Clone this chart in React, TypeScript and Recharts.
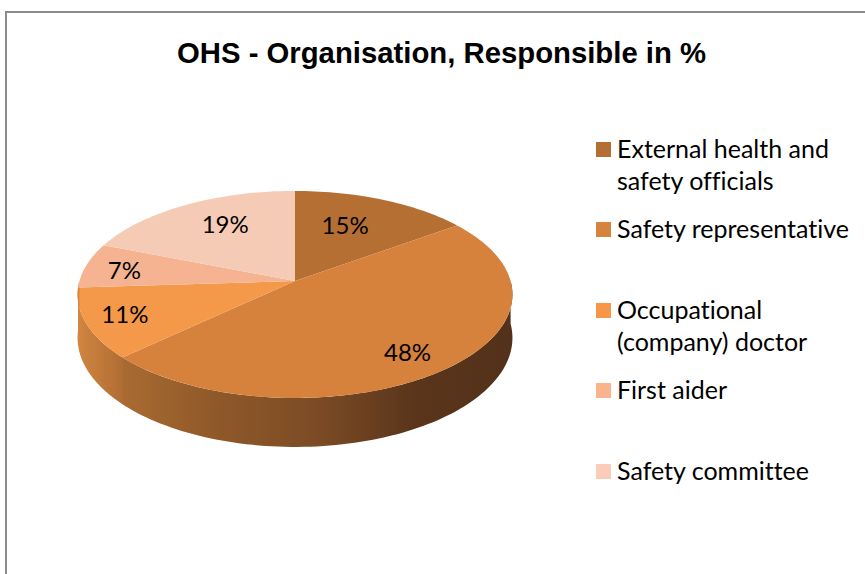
import { PieChart, Pie, Legend } from 'recharts'

const categories = [
  'External health and safety officials',
  'Safety representative',
  'Occupational (company) doctor',
  'First aider',
  'Safety committee',
]
const shares = [15, 48, 11, 7, 19]
const faceColors = ['#b56f33', '#d6813c', '#f4984a', '#f5b392', '#f6cbb5']
const swatchColors = ['#b46f35', '#d6833d', '#f79646', '#fab48c', '#fbcdb8']

const wallStopsFront = ['#a96b31', '#8e5829', '#7c4b25', '#5a351b', '#53311a']
const wallStopsLeft = ['#d08540', '#ae6c32']

// label spots: fraction of the radius along the slice middle, then a small nudge
const labelRadii = [0.65, 0.8, 0.8, 0.8, 0.68]
const labelNudges = [[-9, -2], [-7, 2], [-5, -1], [-3, 1], [7, -4]]
const legendTops = [142, 222, 303, 383, 464]

const WIDTH = 865
const HEIGHT = 574
const CX = 295
const CY = 281
const RADIUS = 215.6
const SQUASH = 0.472 // vertical flattening of the disc
const PERSPECTIVE = 0.13 // far side shrinks, near side grows
const DEPTH = 42.6

const rad = (deg: number) => (deg * Math.PI) / 180

// disc point at math angle a and radius fraction f -> screen position
function project(cx: number, cy: number, r: number, a: number, f = 1, drop = 0) {
  const u = Math.cos(rad(a)) * f
  const v = Math.sin(rad(a)) * f
  const w = 1 + PERSPECTIVE * v
  return {
    x: cx + (r * u) / w,
    y: cy - (r * SQUASH * v) / w + drop / w,
  }
}

function arcPoints(cx: number, cy: number, r: number, from: number, to: number, drop = 0) {
  const steps = Math.max(2, Math.ceil(Math.abs(to - from) / 1.5))
  const pts = []
  for (let i = 0; i <= steps; i++) {
    pts.push(project(cx, cy, r, from + ((to - from) * i) / steps, 1, drop))
  }
  return pts
}

const toPath = (pts: { x: number; y: number }[]) =>
  'M' + pts.map(p => `${p.x.toFixed(2)},${p.y.toFixed(2)}`).join('L') + 'Z'

function DiscSlice(props: any) {
  const { cx, cy, outerRadius, startAngle, endAngle, fill, index } = props
  const rim = arcPoints(cx, cy, outerRadius, startAngle, endAngle)
  const from = Math.min(startAngle, 0)
  // a hair past the slice end so neighbouring walls leave no seam
  const to = Math.max(endAngle - 0.3, -180)
  const hasWall = from > to
  let wall = null
  if (hasWall) {
    const upper = arcPoints(cx, cy, outerRadius, from, to)
    const lower = arcPoints(cx, cy, outerRadius, from, to, DEPTH).reverse()
    const xs = upper.map(p => p.x)
    const stops = index === 1 ? wallStopsFront : wallStopsLeft
    const id = `wall-${index}`
    // the front wall fades to dark going right, the left wall going right as well
    wall = (
      <>
        <defs>
          <linearGradient
            id={id}
            gradientUnits="userSpaceOnUse"
            x1={index === 1 ? Math.min(...xs) : CX - RADIUS}
            x2={index === 1 ? Math.max(...xs) : CX - RADIUS + 46}
            y1={0}
            y2={0}
          >
            {stops.map((c, i) => (
              <stop key={c} offset={i / (stops.length - 1)} stopColor={c} />
            ))}
          </linearGradient>
        </defs>
        <path d={toPath([...upper, ...lower])} fill={`url(#${id})`} />
      </>
    )
  }
  return (
    <g>
      {wall}
      <path d={toPath([{ x: cx, y: cy }, ...rim])} fill={fill} />
    </g>
  )
}

function SliceLabel(props: any) {
  const { cx, cy, outerRadius, midAngle, index, value } = props
  const p = project(cx, cy, outerRadius, midAngle, labelRadii[index])
  return (
    <text
      x={p.x + labelNudges[index][0]}
      y={p.y + labelNudges[index][1]}
      textAnchor="middle"
      dominantBaseline="central"
      fontFamily="Lato, sans-serif"
      fontSize={24}
      fill="#000"
    >
      {value}%
    </text>
  )
}

function LegendRows() {
  return (
    <div>
      {categories.map((name, i) => (
        <div key={name}>
          <div
            style={{
              position: 'absolute',
              left: 596,
              top: legendTops[i],
              width: 15,
              height: 15,
              background: swatchColors[i],
            }}
          />
          <div
            style={{
              position: 'absolute',
              left: 617,
              top: legendTops[i] - 10,
              width: 245,
              fontFamily: 'Lato, sans-serif',
              fontSize: 25,
              fontVariantLigatures: 'none',
              lineHeight: '32px',
              color: '#000',
            }}
          >
            {name}
          </div>
        </div>
      ))}
    </div>
  )
}

const tableData = categories.map((name, i) => ({ name, value: shares[i], fill: faceColors[i] }))

export default function App() {
  return (
    <div style={{ position: 'absolute', left: 0, top: 0, width: WIDTH, height: HEIGHT, overflow: 'hidden', background: '#fff' }}>
      <div
        style={{
          position: 'absolute',
          left: 5,
          top: 11,
          right: -4,
          bottom: -4,
          borderLeft: '2px solid #8c8c8c',
          borderTop: '2px solid #8c8c8c',
        }}
      />
      <div
        style={{
          position: 'absolute',
          left: 177,
          top: 36,
          fontFamily: '"Liberation Sans", Arial, sans-serif',
          fontWeight: 700,
          fontSize: 29.3,
          whiteSpace: 'nowrap',
          color: '#000',
        }}
      >
        OHS - Organisation, Responsible in %
      </div>
      <div style={{ position: 'absolute', left: 0, top: 0 }}>
        <PieChart width={WIDTH} height={HEIGHT} margin={{ top: 0, right: 0, bottom: 0, left: 0 }}>
          <Pie
            data={tableData}
            dataKey="value"
            nameKey="name"
            cx={CX}
            cy={CY}
            innerRadius={0}
            outerRadius={RADIUS}
            startAngle={90}
            endAngle={-270}
            stroke="none"
            isAnimationActive={false}
            shape={DiscSlice}
            activeShape={DiscSlice}
            inactiveShape={DiscSlice}
            label={SliceLabel}
            labelLine={false}
          />
          <Legend content={LegendRows} wrapperStyle={{ position: 'absolute', left: 0, top: 0, width: WIDTH, height: 0 }} />
        </PieChart>
      </div>
    </div>
  )
}
